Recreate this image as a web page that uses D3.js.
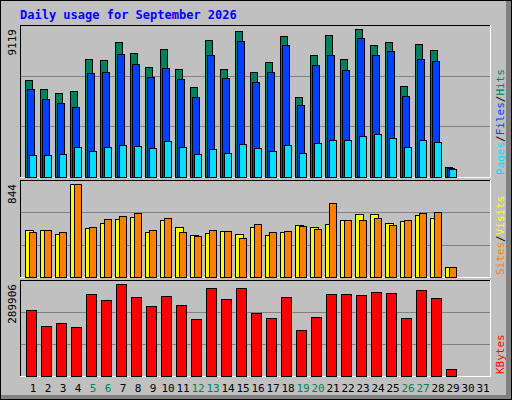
<!DOCTYPE html>
<html><head><meta charset="utf-8">
<script src="https://cdn.jsdelivr.net/npm/d3@7"></script>
<style>body{margin:0;background:#fff}text{font-family:"DejaVu Sans Mono",monospace}</style>
</head><body><svg width="512" height="400"></svg>
<script>
const days = d3.range(1, 32)
const weekends = [5,6,12,13,19,20,26,27]
const hits = [5977,5422,5176,5299,7271,7209,8318,7640,6778,7887,6654,5546,8441,6654,8996,6470,7086,8688,4929,7517,8750,7271,9119,8133,8318,5607,8195,7825,616]
const files = [5422,4806,4560,4313,6408,6470,7579,6963,6162,6716,6039,4929,7517,6100,8380,5854,6470,8133,4436,6901,7517,6593,8565,7517,7764,4991,7271,7148,555]
const pages = [1356,1356,1417,1849,1602,1849,1972,1910,1787,2218,1849,1417,1725,1479,2033,1787,1602,1972,1479,2095,2280,2280,2526,2650,2403,1849,2280,2157,493]
const sites = [424,424,387,844,442,487,524,542,406,515,451,378,397,415,387,451,378,406,469,451,478,515,569,569,487,506,560,533,88]
const visits = [406,424,406,844,451,524,551,578,424,533,406,369,424,415,351,478,406,415,460,433,669,515,515,533,469,515,578,587,88]
const kbytes = [207090,156114,165672,152928,258066,238950,289906,248508,219834,251694,223020,178416,277182,242136,277182,197532,181602,248508,143370,184788,258066,258066,254880,264438,261252,181602,270810,245322,19116]

const svg = d3.select('svg')
svg.append('rect').attr('width', 512).attr('height', 400).attr('fill', '#808080')
svg.append('rect').attr('x', 0).attr('y', 0).attr('width', 506).attr('height', 395).attr('fill', '#c0c0c0')
svg.append('rect').attr('x', 0.5).attr('y', 0.5).attr('width', 511).attr('height', 399).attr('fill', 'none').attr('stroke', '#000')

svg.append('text').attr('x', 20).attr('y', 19).attr('fill', '#0000ff')
  .attr('font-size', 12).attr('font-weight', 'bold').text('Daily usage for September 2026')

const x = d3.scaleLinear().domain([1, 31]).range([33, 483])

function panel(y0, y1, top, max, label) {
  svg.append('line').attr('x1', 20).attr('x2', 490).attr('y1', y0 + 0.5).attr('y2', y0 + 0.5).attr('stroke', '#000')
  svg.append('line').attr('x1', 20.5).attr('x2', 20.5).attr('y1', y0).attr('y2', y1).attr('stroke', '#000')
  svg.append('line').attr('x1', 20).attr('x2', 491).attr('y1', y1 + 0.5).attr('y2', y1 + 0.5).attr('stroke', '#fff')
  svg.append('line').attr('x1', 490.5).attr('x2', 490.5).attr('y1', y0).attr('y2', y1 + 1).attr('stroke', '#fff')
  const step = (y1 - y0) / 3
  for (let k = 1; k < 3; k++) {
    const gy = Math.round(y0 + step * k) + 0.5
    svg.append('line').attr('x1', 21).attr('x2', 490).attr('y1', gy).attr('y2', gy).attr('stroke', '#808080')
  }
  svg.append('text').attr('transform', `translate(16,${y0 + 4}) rotate(-90)`).attr('text-anchor', 'end')
    .attr('font-size', 11).attr('fill', '#000').text(max)
  const t = svg.append('text').attr('transform', `translate(504,${y1 - 2}) rotate(-90)`)
    .attr('font-size', 11)
  label.forEach((p, i) => {
    if (i) t.append('tspan').attr('fill', '#000').text('/')
    t.append('tspan').attr('fill', p[1]).text(p[0])
  })
  return d3.scaleLinear().domain([0, max]).range([y1 - 0.5, top])
}

function bars(data, y, off, w, color) {
  svg.append('g').selectAll('rect').data(data).enter().append('rect')
    .attr('x', (d, i) => Math.round(x(i + 1)) - 8 + off + 0.5)
    .attr('y', d => Math.round(y(d)) + 0.5)
    .attr('width', w)
    .attr('height', d => Math.max(0, Math.round(y(0)) - Math.round(y(d))))
    .attr('fill', color).attr('stroke', '#000')
}

const y1 = panel(25, 177, 29, 9119, [['Pages', '#00e0ff'], ['Files', '#0040ff'], ['Hits', '#00805c']])
bars(hits, y1, 0, 7, '#00805c')
bars(files, y1, 2, 7, '#0040ff')
bars(pages, y1, 4, 7, '#00e0ff')

const y2 = panel(180, 277, 184, 844, [['Sites', '#ff8000'], ['Visits', '#ffff00']])
bars(sites, y2, 0, 8, '#ffff00')
bars(visits, y2, 4, 7, '#ff8000')

const y3 = panel(280, 376, 284, 289906, [['KBytes', '#ff0000']])
bars(kbytes, y3, 1, 10, '#ff0000')

svg.append('g').selectAll('text').data(days).enter().append('text')
  .attr('x', d => x(d)).attr('y', 392).attr('text-anchor', 'middle').attr('font-size', 11)
  .attr('font-family', 'DejaVu Sans')
  .attr('fill', d => weekends.includes(d) ? '#00805c' : '#000').text(d => d)
</script></body></html>
